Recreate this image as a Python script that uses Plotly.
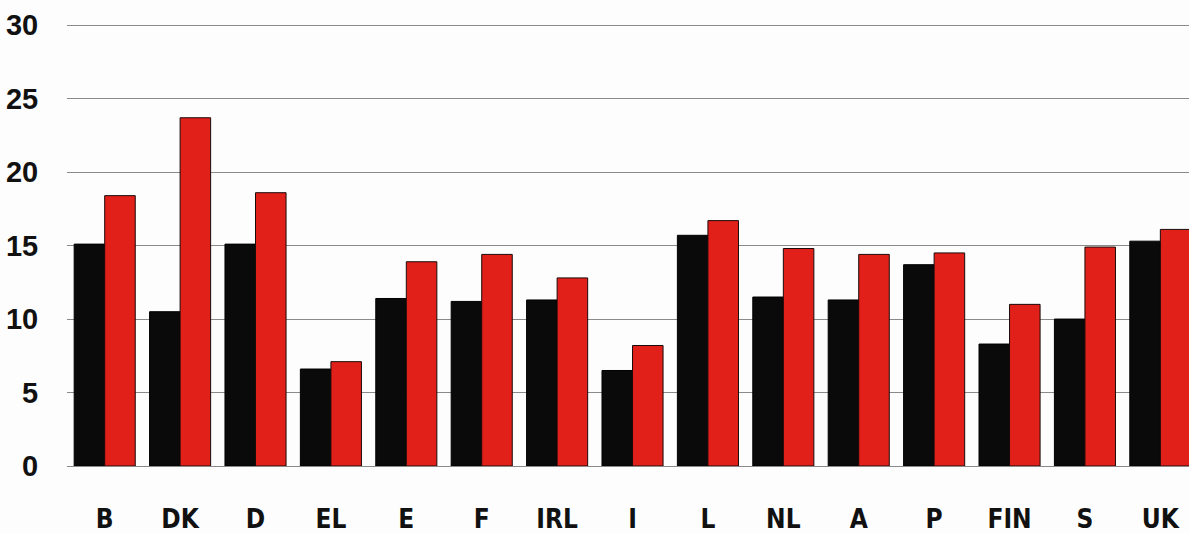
import plotly.graph_objects as go

categories = ["B", "DK", "D", "EL", "E", "F", "IRL", "I", "L", "NL", "A", "P", "FIN", "S", "UK"]
series_black = [15.1, 10.5, 15.1, 6.6, 11.4, 11.2, 11.3, 6.5, 15.7, 11.5, 11.3, 13.7, 8.3, 10.0, 15.3]
series_red = [18.4, 23.7, 18.6, 7.1, 13.9, 14.4, 12.8, 8.2, 16.7, 14.8, 14.4, 14.5, 11.0, 14.9, 16.1]
y_ticks = [0, 5, 10, 15, 20, 25, 30]

fig = go.Figure()
fig.add_trace(go.Bar(x=categories, y=series_black, name="black",
                     marker=dict(color="#0a0a0a", line=dict(color="#000000", width=1))))
fig.add_trace(go.Bar(x=categories, y=series_red, name="red",
                     marker=dict(color="#e2201a", line=dict(color="#1a0a0a", width=1))))

fig.update_layout(
    width=1189, height=534,
    margin=dict(l=67, r=0, t=24, b=64),
    paper_bgcolor="#fdfdfd", plot_bgcolor="#fdfdfd",
    barmode="group", bargap=0.19, bargroupgap=0,
    showlegend=False,
    font=dict(family="Liberation Sans, Arial, sans-serif", color="#111111"),
)
fig.update_xaxes(
    range=[-0.5, 14.38], showgrid=False, zeroline=False, showline=False,
    ticks="outside", ticklen=30, tickcolor="rgba(0,0,0,0)",
    tickfont=dict(size=26, color="#111111",
                  family="Liberation Sans Narrow, DejaVu Sans Condensed, Arial Narrow, sans-serif",
                  weight="bold"),
)
fig.update_yaxes(
    range=[0, 30.08], tickvals=y_ticks, showgrid=True, gridcolor="#8a8a8a", gridwidth=1,
    zeroline=True, zerolinecolor="#8a8a8a", zerolinewidth=1, showline=False,
    ticks="outside", ticklen=22, tickcolor="rgba(0,0,0,0)",
    tickfont=dict(size=29, color="#111111", family="Liberation Sans, Arial, sans-serif", weight="bold"),
)

fig.write_html("out.html",
               config={"displayModeBar": False},
               post_script="document.body.style.margin='0';document.body.style.overflow='hidden';")
